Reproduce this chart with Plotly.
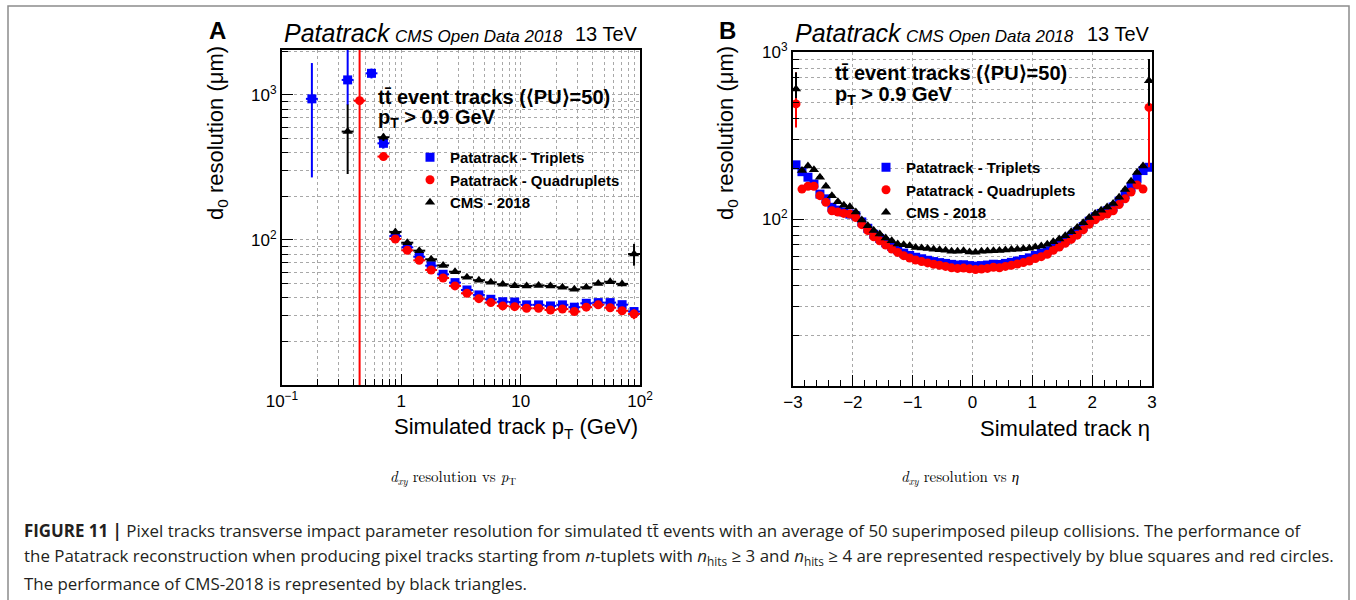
import plotly.graph_objects as go

W, H = 1356, 600
SANS = "Liberation Sans, Arial, sans-serif"
SERIF = "Latin Modern Roman, CMU Serif, Liberation Serif, serif"

BLUE, RED, BLACK = "#0000ff", "#ff0000", "#000000"
GRID = "#a8a8a8"

# ---------------- Panel A : resolution vs pT ----------------
pt_trip = [0.178, 0.355, 0.562, 0.708, 0.891, 1.122, 1.413, 1.778, 2.239, 2.818, 3.548,
           4.467, 5.623, 7.079, 8.913, 11.22, 14.13, 17.78, 22.39, 28.18, 35.48, 44.67,
           56.23, 70.79, 89.13]
res_trip_pt = [940, 1270, 1410, 464, 106.5, 89, 76.7, 66.5, 58.0, 50.8, 45.2, 41.8, 39.0,
               37.5, 37.3, 35.7, 35.7, 35.1, 35.7, 34.4, 36.6, 37.0, 37.0, 35.8, 32.1]
eup_trip_pt = [720, 4000, 110, 37, 2, 1.8, 1.5, 1.3, 1.1, 1.0, 0.9, 0.8, 0.8, 0.8, 0.8,
               0.8, 0.8, 0.8, 0.9, 0.9, 1.0, 1.1, 1.2, 1.4, 1.6]
edn_trip_pt = [670, 420, 110, 37, 2, 1.8, 1.5, 1.3, 1.1, 1.0, 0.9, 0.8, 0.8, 0.8, 0.8,
               0.8, 0.8, 0.8, 0.9, 0.9, 1.0, 1.1, 1.2, 1.4, 1.6]

pt_quad = [0.447, 0.708, 0.891, 1.122, 1.413, 1.778, 2.239, 2.818, 3.548, 4.467, 5.623,
           7.079, 8.913, 11.22, 14.13, 17.78, 22.39, 28.18, 35.48, 44.67, 56.23, 70.79, 89.13]
res_quad_pt = [913, 376, 101.6, 84.9, 72.4, 62.1, 54.7, 48.2, 42.9, 39.4, 37.0, 35.1, 34.7,
               33.8, 33.8, 32.9, 33.4, 32.1, 34.4, 35.7, 34.1, 32.5, 30.9]
eup_quad_pt = [5000, 20, 2, 1.7, 1.4, 1.2, 1.0, 0.9, 0.8, 0.8, 0.8, 0.8, 0.8, 0.8, 0.8,
               0.8, 0.9, 0.9, 1.0, 1.1, 1.2, 1.4, 2.4]
edn_quad_pt = [911, 20, 2, 1.7, 1.4, 1.2, 1.0, 0.9, 0.8, 0.8, 0.8, 0.8, 0.8, 0.8, 0.8,
               0.8, 0.9, 0.9, 1.0, 1.1, 1.2, 1.4, 2.5]

pt_cms = [0.355, 0.708, 0.891, 1.122, 1.413, 1.778, 2.239, 2.818, 3.548, 4.467, 5.623,
          7.079, 8.913, 11.22, 14.13, 17.78, 22.39, 28.18, 35.48, 44.67, 56.23, 70.79, 89.13]
res_cms_pt = [559, 511, 113.6, 95.8, 84.4, 73.6, 66.8, 60.4, 55.3, 52.8, 51.1, 49.5, 48.4,
              48.2, 48.6, 48.2, 47.2, 45.7, 47.2, 50.2, 51.5, 49.8, 80.0]
eup_cms_pt = [301, 30, 2.5, 2, 1.7, 1.5, 1.3, 1.2, 1.1, 1.1, 1.1, 1.1, 1.1, 1.1, 1.1, 1.1,
              1.2, 1.2, 1.3, 1.4, 1.5, 1.8, 14]
edn_cms_pt = [274, 30, 2.5, 2, 1.7, 1.5, 1.3, 1.2, 1.1, 1.1, 1.1, 1.1, 1.1, 1.1, 1.1, 1.1,
              1.2, 1.2, 1.3, 1.4, 1.5, 1.8, 13.5]

PT_LOG_HALF_BIN = 0.05

# ---------------- Panel B : resolution vs eta ----------------
eta = [-2.95, -2.85, -2.75, -2.65, -2.55, -2.45, -2.35, -2.25, -2.15, -2.05,
       -1.95, -1.85, -1.75, -1.65, -1.55, -1.45, -1.35, -1.25, -1.15, -1.05,
       -0.95, -0.85, -0.75, -0.65, -0.55, -0.45, -0.35, -0.25, -0.15, -0.05,
       0.05, 0.15, 0.25, 0.35, 0.45, 0.55, 0.65, 0.75, 0.85, 0.95,
       1.05, 1.15, 1.25, 1.35, 1.45, 1.55, 1.65, 1.75, 1.85, 1.95,
       2.05, 2.15, 2.25, 2.35, 2.45, 2.55, 2.65, 2.75, 2.85, 2.95]
res_trip_eta = [211, 192, 178, 162, 141, 132, 117.5, 113, 110, 107,
                104.5, 96, 88, 81, 76.5, 72, 68.5, 65.5, 62.5, 60.5,
                59, 57.8, 56.6, 55.6, 54.8, 54.2, 53.5, 53.0, 53.2, 52.6,
                52.2, 52.6, 53.0, 53.6, 53.4, 54.2, 55.0, 56.0, 57.2, 58.5,
                60.5, 62.5, 64.5, 68, 71, 74.5, 79, 84, 90, 97,
                103, 108, 112, 118, 128, 140, 155, 175, 195, 204]
res_quad_eta = [489, 151, 157, 157, 138, 126, 112, 110, 108, 107,
                102, 92.5, 85.2, 78.3, 74.1, 69.8, 66.1, 63.1, 60.3, 58.4,
                56.8, 55.6, 54.6, 53.6, 52.8, 52.0, 51.0, 50.6, 50.8, 50.3,
                49.8, 50.2, 50.6, 51.4, 51.0, 52.0, 52.8, 53.8, 54.8, 56.0,
                58.0, 59.5, 61.5, 65.0, 68.0, 71.5, 75.5, 80.0, 86.0, 93.0,
                99.0, 104.0, 107.0, 112.0, 122.0, 132.0, 145.0, 160.0, 151.0, 466]
res_cms_eta = [600, 195, 208, 197, 178, 157, 138, 127, 121, 118.5,
               110, 98.6, 91.2, 85.2, 81.3, 76.9, 74.1, 70.8, 70.2, 69.2,
               67.6, 67.0, 66.5, 66.0, 65.5, 65.0, 64.2, 64.0, 64.5, 63.5,
               63.2, 64.0, 64.3, 64.6, 64.8, 65.2, 65.6, 66.0, 66.4, 66.8,
               68.0, 69.0, 70.5, 73.0, 76.0, 79.5, 84, 89, 95, 102,
               108, 113, 118, 124, 135, 150, 168, 190, 208, 673]
# vertical errors for the end bins (others are within the markers)
err_quad_eta_up = {0: 266, 59: 200}
err_quad_eta_dn = {0: 136, 59: 262}
err_cms_eta_up = {0: 155, 59: 235}
err_cms_eta_dn = {0: 70, 59: 196}
ETA_HALF_BIN = 0.05

names = ["Patatrack - Triplets", "Patatrack - Quadruplets", "CMS - 2018"]


def px(x):
    return x / W


def py(y):
    return 1 - y / H


def full_err(d, n):
    return [d.get(i, 0) for i in range(n)]


fig = go.Figure()


def pt_xerr(xs):
    return ([x * (10 ** PT_LOG_HALF_BIN - 1) for x in xs],
            [x * (1 - 10 ** -PT_LOG_HALF_BIN) for x in xs])


specs_a = [
    (pt_trip, res_trip_pt, eup_trip_pt, edn_trip_pt, BLUE, "square", 9),
    (pt_quad, res_quad_pt, eup_quad_pt, edn_quad_pt, RED, "circle", 9),
    (pt_cms, res_cms_pt, eup_cms_pt, edn_cms_pt, BLACK, "triangle-up", 9),
]
for (xs, ys, eu, ed, col, sym, sz), nm in zip(specs_a, names):
    xp, xm = pt_xerr(xs)
    fig.add_trace(go.Scatter(
        x=xs, y=ys, mode="markers", name=nm, xaxis="x", yaxis="y", legend="legend",
        marker=dict(symbol=sym, color=col, size=sz, line=dict(width=0)),
        error_y=dict(type="data", symmetric=False, array=eu, arrayminus=ed,
                     color=col, thickness=2, width=0),
        error_x=dict(type="data", symmetric=False, array=xp, arrayminus=xm,
                     color=col, thickness=2, width=0),
    ))

n = len(eta)
specs_b = [
    (res_trip_eta, [0] * n, [0] * n, BLUE, "square", 9),
    (res_quad_eta, full_err(err_quad_eta_up, n), full_err(err_quad_eta_dn, n), RED, "circle", 9),
    (res_cms_eta, full_err(err_cms_eta_up, n), full_err(err_cms_eta_dn, n), BLACK, "triangle-up", 9),
]
for (ys, eu, ed, col, sym, sz), nm in zip(specs_b, names):
    fig.add_trace(go.Scatter(
        x=eta, y=ys, mode="markers", name=nm, xaxis="x2", yaxis="y2", legend="legend2",
        marker=dict(symbol=sym, color=col, size=sz, line=dict(width=0)),
        error_y=dict(type="data", symmetric=False, array=eu, arrayminus=ed,
                     color=col, thickness=2, width=0),
        error_x=dict(type="constant", value=ETA_HALF_BIN, color=col, thickness=2, width=0),
    ))


def log_minor(decades):
    vals = []
    for d in decades:
        for m in range(2, 10):
            vals.append(m * 10 ** d)
    return vals


axis_common = dict(
    showline=True, linecolor="black", linewidth=2, mirror=True, automargin=False,
    ticks="inside", tickcolor="black", tickwidth=1, ticklen=11,
    showgrid=True, gridcolor=GRID, griddash="dot", gridwidth=1,
    zeroline=False, tickfont=dict(family=SANS, size=17, color="black"),
)

fig.update_layout(
    xaxis=dict(axis_common, type="log", range=[-1, 2], anchor="y",
               domain=[px(282), px(640)],
               tickmode="array", tickvals=[0.1, 1, 10, 100],
               ticktext=["10<sup>\u22121</sup>", "1", "10", "10<sup>2</sup>"],
               minor=dict(tickmode="array", tickvals=log_minor([-1, 0, 1]),
                          ticks="inside", ticklen=6, tickcolor="black",
                          showgrid=True, gridcolor=GRID, griddash="dot")),
    yaxis=dict(axis_common, type="log", range=[1, 3.31], anchor="x",
               domain=[py(385), py(50)],
               tickmode="array", tickvals=[100, 1000],
               ticktext=["10<sup>2</sup>", "10<sup>3</sup>"],
               minor=dict(tickmode="array", tickvals=log_minor([1, 2, 3]),
                          ticks="inside", ticklen=6, tickcolor="black",
                          showgrid=True, gridcolor=GRID, griddash="dot")),
    xaxis2=dict(axis_common, range=[-3, 3], anchor="y2",
                domain=[px(793), px(1152)],
                tickmode="array", tickvals=[-3, -2, -1, 0, 1, 2, 3],
                ticktext=["\u22123", "\u22122", "\u22121", "0", "1", "2", "3"],
                minor=dict(dtick=0.2, ticks="inside", ticklen=6, tickcolor="black",
                           showgrid=False)),
    yaxis2=dict(axis_common, type="log", range=[1, 3], anchor="x2",
                domain=[py(386), py(52)],
                tickmode="array", tickvals=[100, 1000],
                ticktext=["10<sup>2</sup>", "10<sup>3</sup>"],
                minor=dict(tickmode="array", tickvals=log_minor([1, 2]),
                           ticks="inside", ticklen=6, tickcolor="black",
                           showgrid=True, gridcolor=GRID, griddash="dot")),
)

legend_common = dict(
    font=dict(family=SANS, size=15, color="black", weight="bold"),
    bgcolor="rgba(0,0,0,0)", borderwidth=0, xanchor="left", yanchor="top",
    itemwidth=30, tracegroupgap=0,
)
fig.update_layout(
    legend=dict(legend_common, x=px(410), y=py(141)),
    legend2=dict(legend_common, x=px(866), y=py(151)),
)

ann = []


def add(text, x, y, size, xanchor="left", yanchor="middle", family=SANS, angle=0,
        color="black"):
    ann.append(dict(text=text, x=px(x), y=py(y), xref="paper", yref="paper",
                    xanchor=xanchor, yanchor=yanchor, showarrow=False, textangle=angle,
                    font=dict(family=family, size=size, color=color)))


for (left, right, xl, yl, xtitle) in [
    (282, 640, 217, "A", "Simulated track p<sub>T</sub> (GeV)"),
    (793, 1152, 727, "B", "Simulated track \u03b7"),
]:
    add("<b>%s</b>" % yl, xl, 30, 24, xanchor="center")
    add("<i>Patatrack</i>", left, 33, 25)
    add("<i>CMS Open Data 2018</i>", left + 111, 36, 17)
    add("13 TeV", right, 34, 20, xanchor="right")
    add("d<sub>0</sub> resolution (\u03bcm)", xl, 133, 22, xanchor="center", angle=-90)
    add(xtitle, right, 428, 22, xanchor="right")

add("<b>tt\u0304 event tracks (\u27e8PU\u27e9=50)</b>", 376, 97, 20)
add("<b>p<sub>T</sub> &gt; 0.9 GeV</b>", 376, 118, 20)
add("<b>tt\u0304 event tracks (\u27e8PU\u27e9=50)</b>", 833, 73, 20)
add("<b>p<sub>T</sub> &gt; 0.9 GeV</b>", 833, 95, 20)

add("<i>d</i><sub><i>xy</i></sub> resolution vs <i>p</i><sub>T</sub>", 453, 476, 15,
    xanchor="center", family=SERIF)
add("<i>d</i><sub><i>xy</i></sub> resolution vs <i>\u03b7</i>", 960, 476, 15,
    xanchor="center", family=SERIF)

CAP = "Open Sans, Liberation Sans, sans-serif"
cap_lines = [
    "<b>FIGURE 11 |</b> Pixel tracks transverse impact parameter resolution for simulated tt\u0304 "
    "events with an average of 50 superimposed pileup collisions. The performance of",
    "the Patatrack reconstruction when producing pixel tracks starting from <i>n</i>-tuplets with "
    "<i>n</i><sub>hits</sub> \u2265 3 and <i>n</i><sub>hits</sub> \u2265 4 are represented "
    "respectively by blue squares and red circles.",
    "The performance of CMS-2018 is represented by black triangles.",
]
for i, t in enumerate(cap_lines):
    add(t, 22, 530 + 26.5 * i, 16.9, family=CAP, color="#231f20")

fig.update_layout(
    annotations=ann,
    shapes=[dict(type="rect", xref="paper", yref="paper", x0=px(8), x1=px(1349),
                 y0=py(612), y1=py(6), line=dict(color="#8c8c8c", width=1.5),
                 fillcolor="rgba(0,0,0,0)", layer="below")],
    width=W, height=H, margin=dict(l=0, r=0, t=0, b=0, autoexpand=False),
    paper_bgcolor="white", plot_bgcolor="white", showlegend=True,
)

fig.write_html("out.html")
